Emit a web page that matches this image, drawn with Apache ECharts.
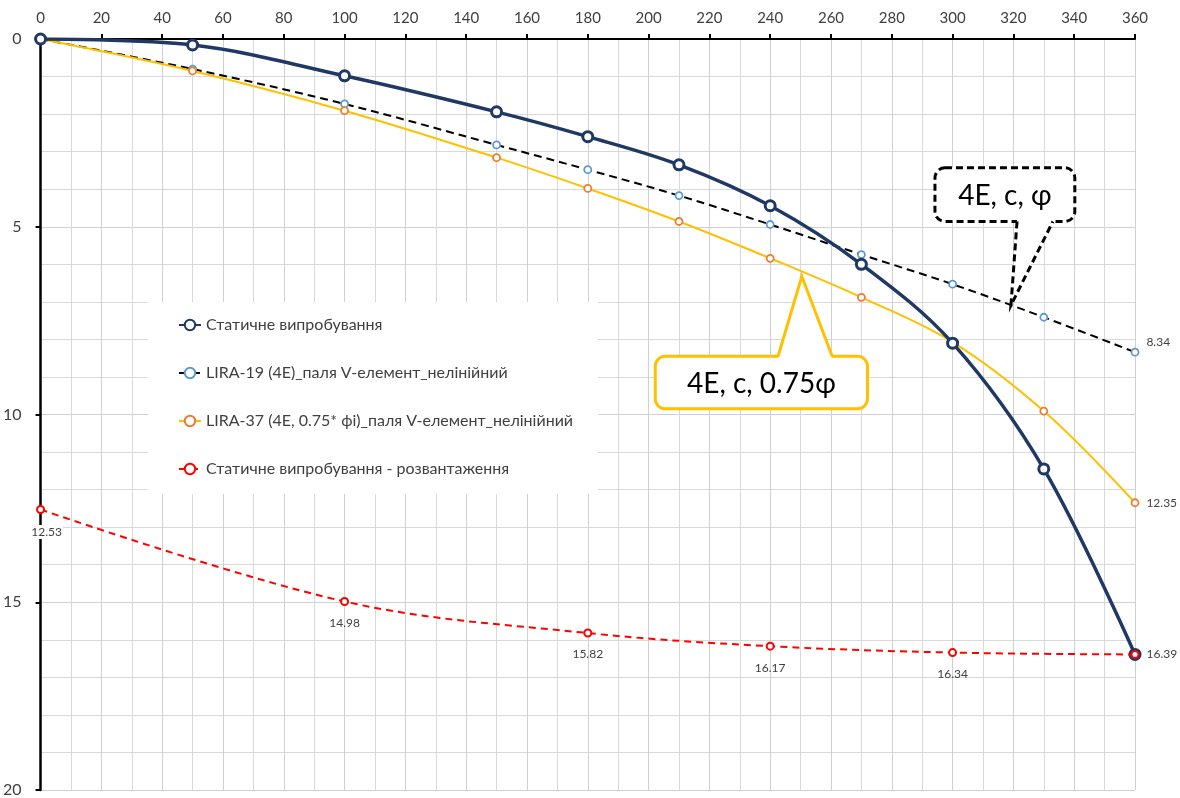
<!DOCTYPE html>
<html>
<head>
<meta charset="utf-8">
<script src="https://cdn.jsdelivr.net/npm/echarts@6/dist/echarts.min.js"></script>
<style>html,body{margin:0;padding:0;background:#fff}#c{width:1180px;height:798px}</style>
</head>
<body>
<div id="c"></div>
<script>
const loads = [0, 50, 100, 150, 180, 210, 240, 270, 300, 330, 360];
const staticTest = [0, 0.16, 0.98, 1.94, 2.60, 3.35, 4.44, 6.00, 8.10, 11.45, 16.39];
const lira19 = [0, 0.80, 1.73, 2.82, 3.48, 4.17, 4.94, 5.74, 6.53, 7.41, 8.34];
const lira37 = [0, 0.85, 1.91, 3.16, 3.98, 4.86, 5.84, 6.88, 8.07, 9.91, 12.35];
const unloadLoads = [0, 100, 180, 240, 300, 360];
const unloadValues = [12.53, 14.98, 15.82, 16.17, 16.34, 16.39];
const seriesNames = ['Статичне випробування', 'LIRA-19 (4E)_паля V-елемент_нелінійний', 'LIRA-37 (4E, 0.75* фі)_паля V-елемент_нелінійний', 'Статичне випробування - розвантаження'];
const calloutTexts = ['4E, c, φ', '4E, c, 0.75φ'];

const FONT = 'Lato, "Open Sans", "Liberation Sans", sans-serif';
const pairs = (xs, ys) => xs.map((x, i) => [x, ys[i]]);

const chart = echarts.init(document.getElementById('c'));
const labelStyle = {color: '#404040', fontSize: 12, fontFamily: FONT, formatter: p => p.value[1].toFixed(2)};

chart.setOption({
  animation: false,
  textStyle: {fontFamily: FONT},
  grid: {left: 40, top: 39, right: 45, bottom: 6},
  legend: {
    orient: 'vertical', left: 148, top: 302,
    padding: [15, 25, 17, 30], itemGap: 32, itemWidth: 22, itemHeight: 13,
    backgroundColor: '#ffffff',
    textStyle: {color: '#404040', fontSize: 16, fontFamily: FONT},
    data: seriesNames
  },
  xAxis: {
    type: 'value', position: 'top', min: 0, max: 360, interval: 20,
    axisLine: {show: true, onZero: false, lineStyle: {color: '#000', width: 2}},
    axisTick: {show: true, length: 5, lineStyle: {color: '#000', width: 2}},
    axisLabel: {color: '#404040', fontSize: 15, margin: 13, fontFamily: FONT},
    splitLine: {show: true, lineStyle: {color: '#d0d0d0', width: 1}},
    minorTick: {show: false, splitNumber: 2},
    minorSplitLine: {show: true, lineStyle: {color: '#d9d9d9', width: 1}}
  },
  yAxis: {
    type: 'value', inverse: true, min: 0, max: 20, interval: 5,
    axisLine: {show: true, onZero: false, lineStyle: {color: '#000', width: 2.5}},
    axisTick: {show: true, length: 5, lineStyle: {color: '#000', width: 2}},
    axisLabel: {color: '#404040', fontSize: 16, margin: 19, fontFamily: FONT},
    splitLine: {show: true, lineStyle: {color: '#d0d0d0', width: 1}},
    minorTick: {show: false, splitNumber: 5},
    minorSplitLine: {show: true, lineStyle: {color: '#d9d9d9', width: 1}}
  },
  series: [
    {
      name: seriesNames[0], type: 'line', smooth: 0.35, z: 5,
      data: pairs(loads, staticTest),
      symbol: 'circle', symbolSize: 10,
      lineStyle: {color: '#1f3864', width: 3.5},
      itemStyle: {color: '#ffffff', borderColor: '#1f3864', borderWidth: 3}
    },
    {
      name: seriesNames[1], type: 'line', smooth: 0.35, z: 3,
      data: pairs(loads, lira19).map((p, i) => i === loads.length - 1
        ? {value: p, label: {show: true, position: 'right', offset: [0, -10]}} : p),
      symbol: 'circle', symbolSize: 7,
      label: {show: false, ...labelStyle, distance: 7},
      lineStyle: {color: '#000000', width: 2, type: [8, 5]},
      itemStyle: {color: '#ffffff', borderColor: '#5b9bd5', borderWidth: 1.8}
    },
    {
      name: seriesNames[2], type: 'line', smooth: 0.35, z: 4,
      data: pairs(loads, lira37).map((p, i) => i === loads.length - 1
        ? {value: p, label: {show: true, position: 'right'}} : p),
      symbol: 'circle', symbolSize: 7,
      label: {show: false, ...labelStyle, distance: 7},
      lineStyle: {color: '#ffc000', width: 2},
      itemStyle: {color: '#ffffff', borderColor: '#ed7d31', borderWidth: 1.8}
    },
    {
      name: seriesNames[3], type: 'line', smooth: 0.35, z: 6,
      data: pairs(unloadLoads, unloadValues).map((p, i) => {
        if (i === unloadLoads.length - 1) return {value: p, label: {show: true, position: 'right', distance: 7}};
        if (i === 0) return {value: p, label: {show: true, position: 'bottom', offset: [6, 0], backgroundColor: '#ffffff', padding: [1, 1]}};
        return {value: p, label: {show: true, position: 'bottom'}};
      }),
      symbol: 'circle', symbolSize: 7,
      label: {show: true, ...labelStyle, distance: 11},
      lineStyle: {color: '#ff0000', width: 2, type: [7, 5]},
      itemStyle: {color: '#ffffff', borderColor: '#ff0000', borderWidth: 2}
    }
  ]
});

// Callout anchors in data coordinates: box [x0,y0,x1,y1], wedge base x's, tip point
const callouts = [
  {text: calloutTexts[0], box: [294.2, 3.43, 340.2, 4.86], base: [321.2, 333.0], tip: [319.2, 7.09], side: 'bottom',
   stroke: '#000000', dash: [7, 4]},
  {text: calloutTexts[1], box: [202.2, 8.45, 272.0, 9.85], base: [242.6, 260.4], tip: [250.4, 6.32], side: 'top',
   stroke: '#ffc000', dash: null}
];
function px(p) { return chart.convertToPixel({gridIndex: 0}, p); }
const graphics = [];
callouts.forEach(c => {
  const [x0, y0] = px([c.box[0], c.box[1]]);
  const [x1, y1] = px([c.box[2], c.box[3]]);
  const tip = px(c.tip);
  const b1 = px([c.base[0], 0])[0], b2 = px([c.base[1], 0])[0];
  const by = c.side === 'bottom' ? y1 : y0;
  const inset = c.side === 'bottom' ? -3 : 3;
  graphics.push({
    type: 'rect', z: 100, shape: {x: x0, y: y0, width: x1 - x0, height: y1 - y0, r: 10},
    style: {fill: '#ffffff', stroke: c.stroke, lineWidth: 3, lineDash: c.dash}
  });
  graphics.push({
    type: 'polygon', z: 101, shape: {points: [[b1, by + inset], [b2, by + inset], tip]},
    style: {fill: '#ffffff', stroke: null}
  });
  graphics.push({
    type: 'polyline', z: 102, shape: {points: [[b1, by], tip, [b2, by]]},
    style: {fill: null, stroke: c.stroke, lineWidth: 3, lineDash: c.dash, lineJoin: 'miter'}
  });
  graphics.push({
    type: 'text', z: 103, x: (x0 + x1) / 2, y: (y0 + y1) / 2 + 1,
    style: {text: c.text, fill: '#000000', font: '28px ' + FONT, align: 'center', verticalAlign: 'middle'}
  });
});
chart.setOption({graphic: graphics});
</script>
</body>
</html>
